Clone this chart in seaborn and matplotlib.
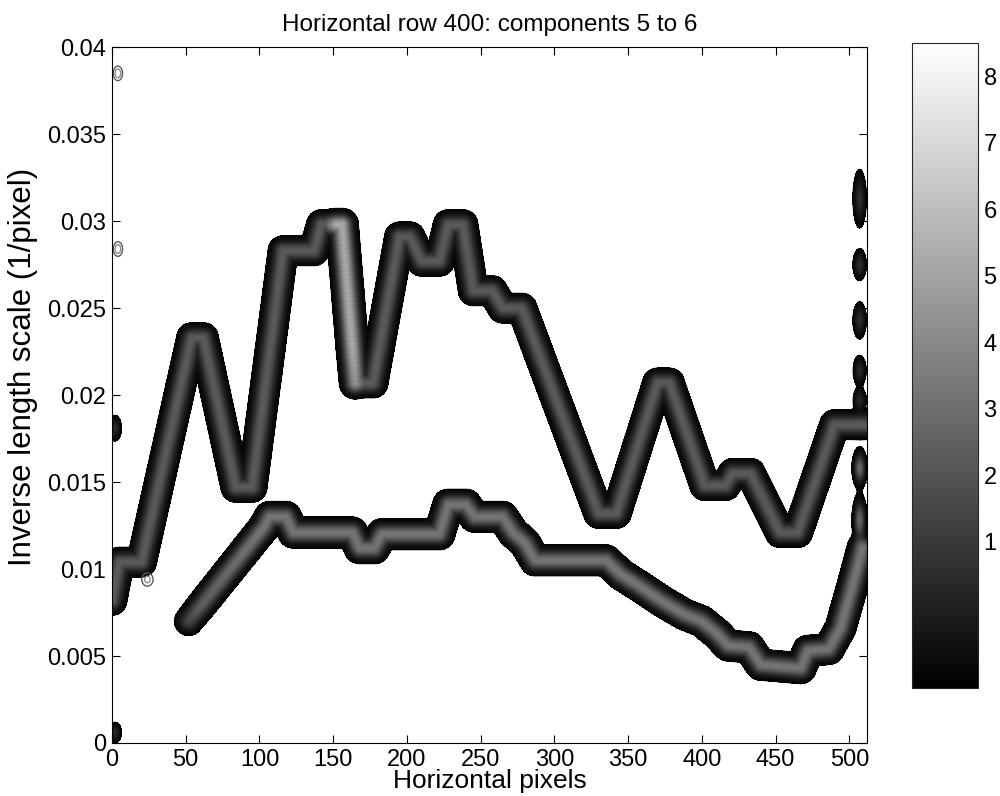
import numpy as np
import matplotlib
matplotlib.use("Agg")
import matplotlib.pyplot as plt
import seaborn as sns
from matplotlib.colors import Normalize
from matplotlib.cm import ScalarMappable

# ---------------- data ----------------
# ridge of component 5 (upper ridge): x (pixels), inverse length scale
upper_x = [0, 5, 20, 54, 62, 84, 95, 116, 137, 142, 156, 165, 177, 195, 202, 210,
           222, 228, 238, 245, 258, 265, 278, 330, 342, 370, 378, 402, 416, 421,
           433, 453, 465, 490, 512]
upper_y = [0.0082, 0.0104, 0.0104, 0.0233, 0.0233, 0.0147, 0.0147, 0.0283, 0.0283,
           0.0298, 0.0298, 0.0207, 0.0207, 0.0291, 0.0291, 0.0277, 0.0277, 0.0298,
           0.0298, 0.0260, 0.0260, 0.0250, 0.0250, 0.0132, 0.0132, 0.0207, 0.0207,
           0.0148, 0.0148, 0.0155, 0.0155, 0.0121, 0.0121, 0.0183, 0.0183]
upper_amp_x = [0, 146, 152, 163, 170, 512]
upper_amp = [3.1, 3.1, 5.8, 5.8, 3.1, 3.1]

# ridge of component 6 (lower ridge)
lower_x = [52, 103, 107, 118, 123, 163, 168, 178, 183, 222, 228, 240, 246, 265, 272,
           280, 287, 335, 345, 358, 372, 388, 400, 410, 418, 432, 440, 467, 472, 486,
           494, 502, 509]
lower_y = [0.0070, 0.0124, 0.0130, 0.0130, 0.0121, 0.0121, 0.0112, 0.0112, 0.0120,
           0.0120, 0.0137, 0.0137, 0.0130, 0.0130, 0.0121, 0.0115, 0.0105, 0.0105,
           0.0097, 0.0090, 0.0082, 0.0074, 0.0070, 0.0063, 0.0056, 0.0055, 0.0045,
           0.0043, 0.0053, 0.0054, 0.0066, 0.0090, 0.0112]
lower_amp_x = [52, 60, 100, 509]
lower_amp = [2.4, 3.2, 4.0, 4.0]

# small solid features near the image edges
blob_x = [507, 507, 507, 507, 507, 507, 507, 2, 2]
blob_y = [0.0313, 0.0275, 0.0243, 0.0214, 0.0197, 0.0158, 0.0128, 0.0181, 0.0006]
blob_amp = [1.6, 1.6, 1.6, 1.4, 1.4, 3.5, 3.5, 1.4, 1.4]
blob_w = [3, 3, 3, 3, 3, 3, 3, 3, 3]
blob_h = [0.0011, 0.0006, 0.0007, 0.0006, 0.0005, 0.0007, 0.0009, 0.0005, 0.0004]

# small ring-shaped contours
ring_x = [4, 4, 24]
ring_y = [0.0385, 0.0284, 0.0094]
ring_amp = [0.6, 0.6, 0.5]
ring_w = [3.0, 3.0, 4.0]
ring_h = [0.0004, 0.0004, 0.0004]

x_ticks = [0, 50, 100, 150, 200, 250, 300, 350, 400, 450, 500]
y_ticks = [0, 0.005, 0.01, 0.015, 0.02, 0.025, 0.03, 0.035, 0.04]
y_tick_labels = ["0", "0.005", "0.01", "0.015", "0.02", "0.025", "0.03", "0.035", "0.04"]
cbar_ticks = [1, 2, 3, 4, 5, 6, 7, 8]

# ---------------- build the scalogram-like field ----------------
xg = np.linspace(0, 512, 1025)
yg = np.linspace(0, 0.04, 801)
X, Y = np.meshgrid(xg, yg)
PXS, PYS = 1.474, 17400.0   # pixel scale for isotropic tube width
SIG = 8.6


def tube(kx, ky, akx, aky):
    Z = np.zeros_like(X)
    for k in np.arange(-13, 13.001, 0.25):
        xp = xg + k
        yc = np.interp(xp, kx, ky)
        amp = np.interp(xp, akx, aky, left=0.0, right=0.0)
        d2 = (k * PXS) ** 2 + ((Y - yc[None, :]) * PYS) ** 2
        Z = np.maximum(Z, amp[None, :] * np.exp(-d2 / SIG ** 2))
    return Z


def blobs(bxs, bys, bas, bws, bhs):
    Z = np.zeros_like(X)
    for bx, by, ba, bw, bh in zip(bxs, bys, bas, bws, bhs):
        Z = Z + ba * np.exp(-((X - bx) / bw) ** 2 - ((Y - by) / bh) ** 2)
    return Z


Z = np.maximum(tube(upper_x, upper_y, upper_amp_x, upper_amp),
               tube(lower_x, lower_y, lower_amp_x, lower_amp))
Z = Z + blobs(blob_x, blob_y, blob_amp, blob_w, blob_h)
Zr = blobs(ring_x, ring_y, ring_amp, ring_w, ring_h)

# ---------------- plot ----------------
sns.set_theme(style="ticks")
plt.rcParams["font.family"] = ["Liberation Sans", "DejaVu Sans"]
plt.rcParams["text.color"] = "black"
plt.rcParams["axes.labelcolor"] = "black"

fig = plt.figure(figsize=(10, 7.96), dpi=100)
ax = fig.add_axes([0.112, 0.0666, 0.755, 0.874])

norm = Normalize(0, 8.7)
levels = np.arange(0.15, 8.7, 0.15)
ax.contourf(xg, yg, Z, levels=levels, cmap="gray", norm=norm)
ax.contour(xg, yg, Z, levels=levels, cmap="gray", norm=norm, linewidths=0.6)
ax.contour(xg, yg, Zr, levels=[0.2, 0.4], colors=["0.35", "0.55"], linewidths=1.0)

ax.set_xlim(0, 512)
ax.set_ylim(0, 0.04)
ax.set_xticks(x_ticks)
ax.set_yticks(y_ticks)
ax.set_yticklabels(y_tick_labels)
ax.tick_params(direction="in", top=True, right=True, length=6, width=0.8,
               labelsize=17, colors="black", pad=4)
for sp in ax.spines.values():
    sp.set_color("black")
    sp.set_linewidth(0.8)
ax.set_xlabel("Horizontal pixels", fontsize=19, labelpad=-1)
ax.set_ylabel("Inverse length scale (1/pixel)", fontsize=22.5)
ax.yaxis.set_label_coords(-0.098, 0.54)
ax.set_title("Horizontal row 400: components 5 to 6", fontsize=17.5, pad=12)

cax = fig.add_axes([0.912, 0.1357, 0.066, 0.81])
sm = ScalarMappable(norm=Normalize(-1.2, 8.5), cmap="gray")
cb = fig.colorbar(sm, cax=cax, ticks=cbar_ticks)
cb.outline.set_linewidth(0.8)
cax.tick_params(direction="in", left=True, right=True, length=5, width=0.8,
                labelsize=17, pad=4, colors="black")

fig.savefig("out.png", dpi=100)
